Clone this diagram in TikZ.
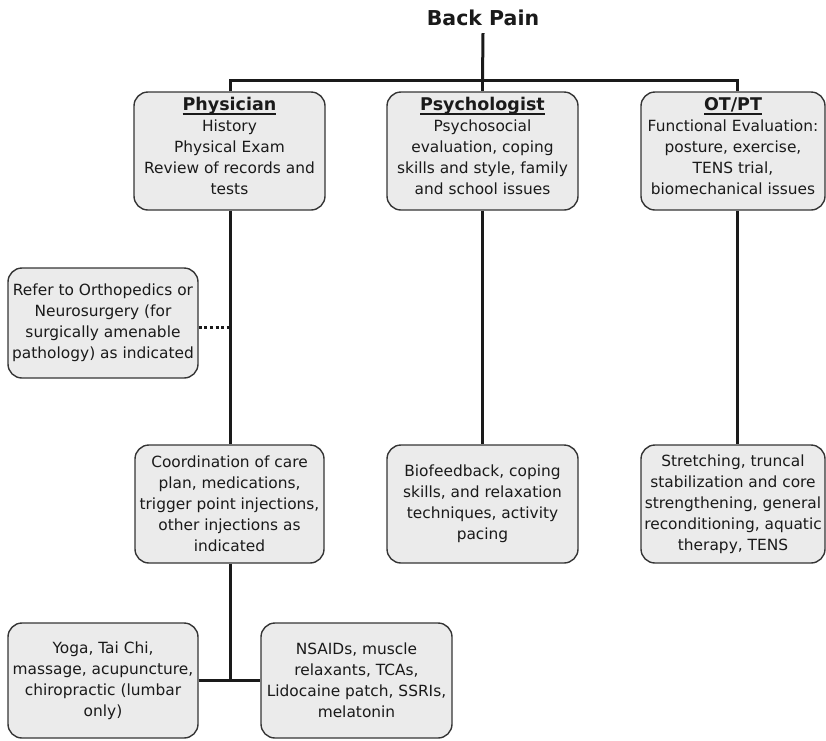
\documentclass[tikz,border=0pt]{standalone}
\usepackage{fontspec}
\setmainfont{DejaVu Sans}
\definecolor{ink}{HTML}{1A1A1A}
\definecolor{boxfill}{HTML}{EBEBEB}
\definecolor{boxline}{HTML}{353535}
% bold, underlined heading inside a box
\newcommand\headtxt[1]{{\fontsize{17.5}{21}\selectfont\bfseries
  \setbox0=\hbox{#1}\rlap{\rule[-4.4pt]{\wd0}{1.9pt}}\box0}}
% extra depth on the last line, lifting the text block in the heading boxes
\newcommand\lift{\rule[-10pt]{0pt}{10pt}}
\begin{document}
\begin{tikzpicture}[x=1pt,y=-1pt,
  box/.style={draw=boxline, fill=boxfill, rounded corners=14pt,
    line width=1.4pt, align=center, inner sep=0pt, text=ink,
    font=\fontsize{15.4}{21}\selectfont},
  link/.style={draw=ink, line width=3pt},
  dotlink/.style={draw=ink, line width=3pt, dash pattern=on 3pt off 2.6pt}]
\useasboundingbox (0,0) rectangle (826,740);

% heading
\node[text=ink, font=\fontsize{20.5}{24}\selectfont\bfseries, inner sep=7pt]
  (title) at (483,18) {Back Pain};

% column positions of the connectors
\coordinate (colA) at (230,80);
\coordinate (colB) at (482.5,80);
\coordinate (colC) at (737,80);

% first row: the three disciplines
\node[box, minimum width=191, minimum height=118] (phys) at (229.5,151)
  {\headtxt{Physician}\\History\\Physical Exam\\Review of records and\\tests\lift};
\node[box, minimum width=191, minimum height=118] (psych) at (482.5,151)
  {\headtxt{Psychologist}\\Psychosocial\\evaluation, coping\\skills and style, family\\and school issues\lift};
\node[box, minimum width=184, minimum height=118] (otpt) at (733,151)
  {\headtxt{OT/PT}\\Functional Evaluation:\\posture, exercise,\\TENS trial,\\biomechanical issues\lift};

% referral
\node[box, minimum width=190, minimum height=110] (refer) at (103,323)
  {Refer to Orthopedics or\\Neurosurgery (for\\surgically amenable\\pathology) as indicated};

% second row: interventions
\node[box, minimum width=189, minimum height=118] (coord) at (229.5,504)
  {Coordination of care\\plan, medications,\\trigger point injections,\\other injections as\\indicated};
\node[box, minimum width=191, minimum height=118] (bio) at (482.5,504)
  {Biofeedback, coping\\skills, and relaxation\\techniques, activity\\pacing};
\node[box, minimum width=184, minimum height=118] (stretch) at (733,504)
  {Stretching, truncal\\stabilization and core\\strengthening, general\\reconditioning, aquatic\\therapy, TENS};

% third row
\node[box, minimum width=190, minimum height=115] (yoga) at (103,680.5)
  {Yoga, Tai Chi,\\massage, acupuncture,\\chiropractic (lumbar\\only)};
\node[box, minimum width=191, minimum height=115] (nsaid) at (356.5,680.5)
  {NSAIDs, muscle\\relaxants, TCAs,\\Lidocaine patch, SSRIs,\\melatonin};

% connectors
\draw[link] (title.south) -- (colB);
\draw[link] (phys.north -| colA) -- (colA) -- (colC) -- (otpt.north -| colC);
\draw[link] (colB) -- (psych.north -| colB);
\draw[link] (phys.south -| colA) -- (coord.north -| colA);
\draw[dotlink] ([yshift=-4pt]refer.east) -- ([yshift=-4pt]refer.east -| colA);
\draw[link] (psych.south -| colB) -- (bio.north -| colB);
\draw[link] (otpt.south -| colC) -- (stretch.north -| colC);
\draw[link] (coord.south -| colA) -- (yoga.east -| colA);
\draw[link] (yoga.east) -- (nsaid.west);
\end{tikzpicture}
\end{document}
